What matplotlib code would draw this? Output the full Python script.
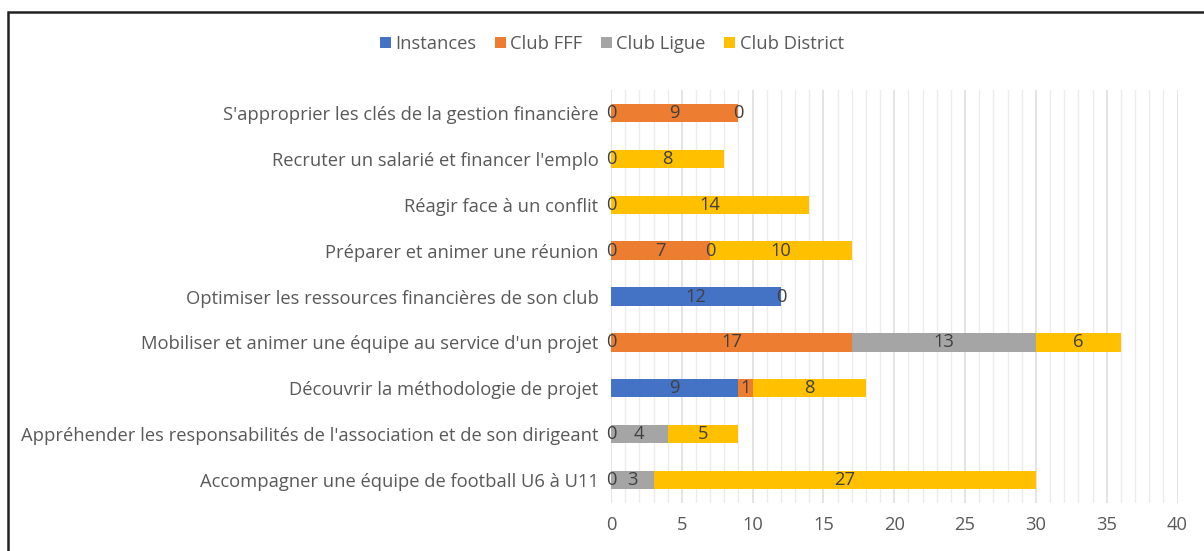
import matplotlib.pyplot as plt
import numpy as np
from matplotlib.patches import Rectangle

plt.rcParams['font.family'] = ['Open Sans', 'DejaVu Sans']

# categories listed bottom to top
categories = [
    "Accompagner une équipe de football U6 à U11",
    "Appréhender les responsabilités de l'association et de son dirigeant",
    "Découvrir la méthodologie de projet",
    "Mobiliser et animer une équipe au service d'un projet",
    "Optimiser les ressources financières de son club",
    "Préparer et animer une réunion",
    "Réagir face à un conflit",
    "Recruter un salarié et financer l'emplo",
    "S'approprier les clés de la gestion financière",
]

nan = np.nan
instances = [0, 0, 9, 0, 12, 0, 0, 0, 0]
club_fff = [nan, nan, 1, 17, 0, 7, nan, nan, 9]
club_ligue = [3, 4, nan, 13, nan, 0, nan, nan, 0]
club_district = [27, 5, 8, 6, nan, 10, 14, 8, nan]

series = [
    ("Instances", instances, "#4472C4"),
    ("Club FFF", club_fff, "#ED7D31"),
    ("Club Ligue", club_ligue, "#A5A5A5"),
    ("Club District", club_district, "#FFC000"),
]

fs = 13.2

fig = plt.figure(figsize=(12.04, 5.51), dpi=100)
ax = fig.add_axes([0.5075, 0.087, 0.978 - 0.5075, 0.8367 - 0.087])

y = np.arange(len(categories))
left = np.zeros(len(categories))
for name, vals, color in series:
    v = np.array(vals, dtype=float)
    w = np.nan_to_num(v)
    ax.barh(y, w, left=left, height=0.4, color=color, label=name, zorder=3)
    for i in range(len(v)):
        if not np.isnan(v[i]):
            ax.text(left[i] + w[i] / 2, y[i], f"{int(v[i])}", ha='center', va='center',
                    fontsize=fs, color='#404040', zorder=4)
    left = left + w

ax.set_xlim(0, 40)
ax.set_ylim(-0.5, len(categories) - 0.5)
ax.set_xticks(np.arange(0, 41, 5))
ax.set_xticks(np.arange(0, 41, 1), minor=True)
ax.set_yticks(y)
ax.set_yticklabels(categories)
ax.tick_params(axis='y', length=0, pad=9, labelsize=fs, labelcolor='#595959')
ax.tick_params(axis='x', which='both', length=0, pad=9, labelsize=fs, labelcolor='#595959')
ax.grid(axis='x', which='major', color='#dcdcdc', linewidth=1.1, zorder=0)
ax.grid(axis='x', which='minor', color='#ececec', linewidth=1.0, zorder=0)
for s in ax.spines.values():
    s.set_visible(False)

leg = fig.legend(loc='center', bbox_to_anchor=(0.508, 0.92), ncol=4, frameon=False,
                 fontsize=fs, handlelength=0.6, handleheight=0.6, handletextpad=0.25,
                 columnspacing=1.0)
for t in leg.get_texts():
    t.set_color('#595959')

# chart border (only left and top visible in the crop)
fig.patches.append(Rectangle((8 / 1204, -0.1), 1.2, 1 - 12 / 551 + 0.1, transform=fig.transFigure,
                             fill=False, edgecolor='#222222', linewidth=1.8))

fig.savefig('out.png', dpi=100)
